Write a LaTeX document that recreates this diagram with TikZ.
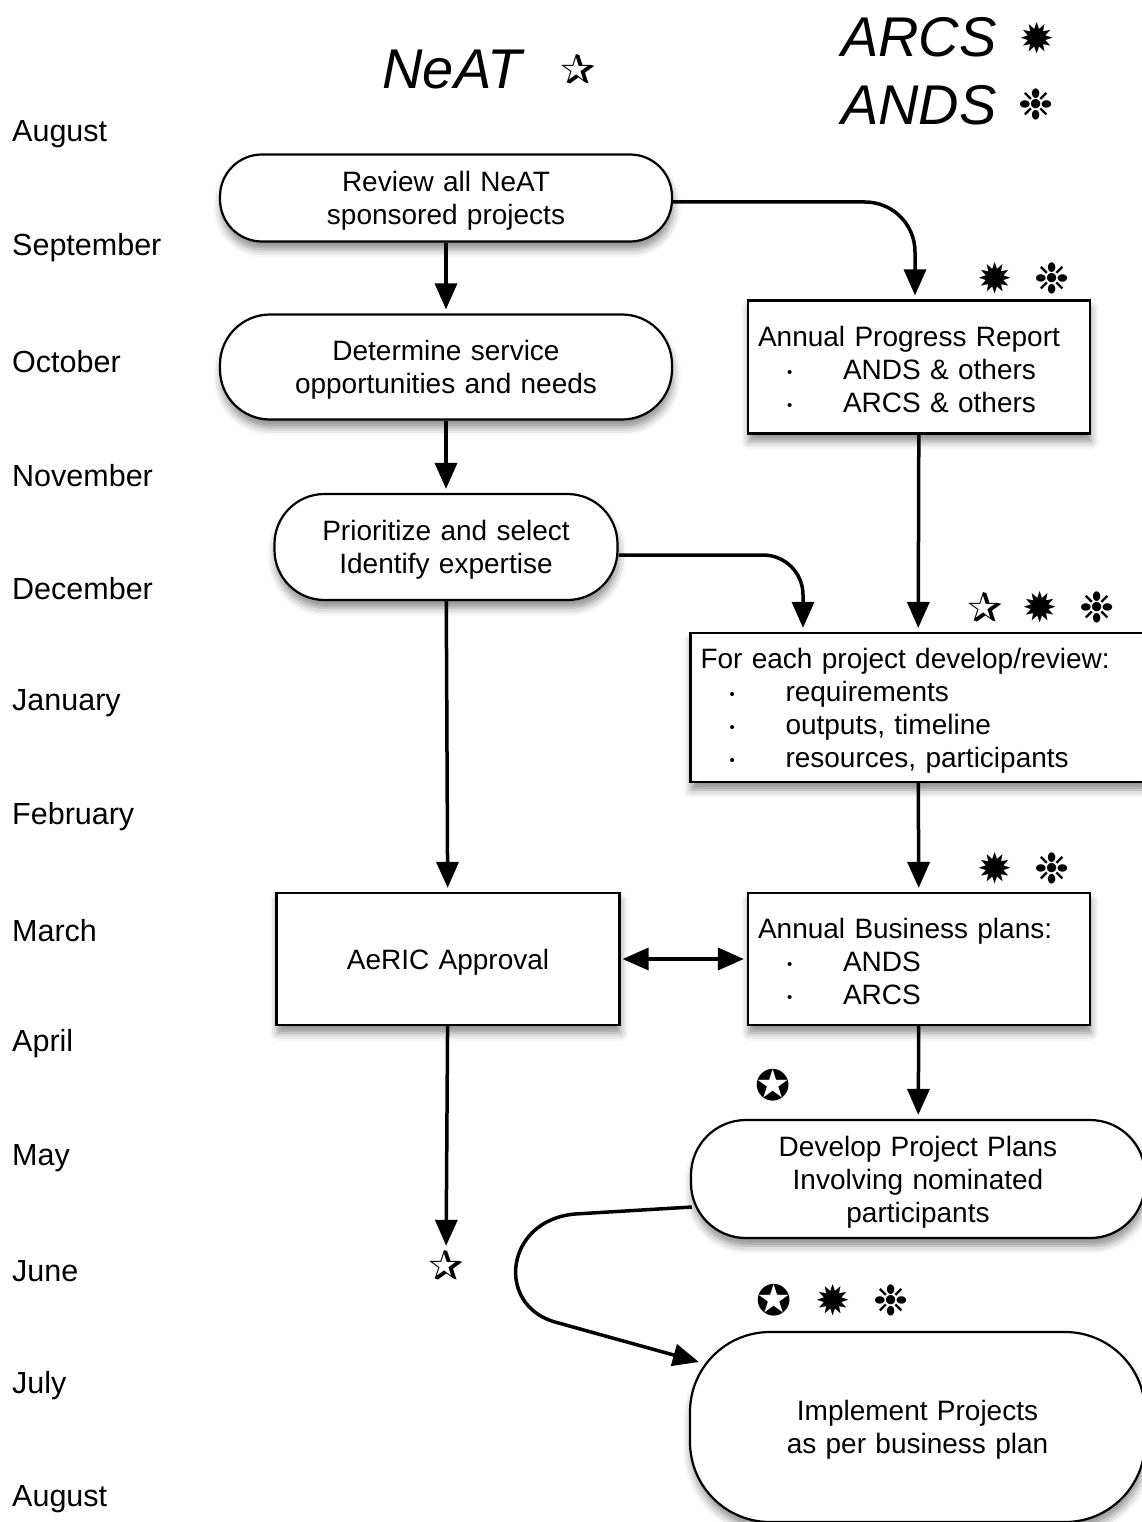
\documentclass[tikz,border=0pt]{standalone}
\usepackage{fontspec}
\setmainfont{Liberation Sans}
\newfontfamily\symfont{DejaVu Sans}
\usetikzlibrary{arrows.meta,shadows.blur}

\tikzset{
	month/.style={anchor=west, inner sep=0pt, font=\fontsize{30.5}{33}\selectfont},
	heading/.style={inner sep=0pt, font=\fontsize{56}{60}\selectfont\itshape},
	sym/.style={inner sep=0pt, font=\symfont\fontsize{42}{42}\selectfont},
	boxshadow/.style={blur shadow={shadow xshift=1pt, shadow yshift=-8pt, shadow blur radius=8pt, shadow opacity=45}},
	stage/.style={draw, line width=2.2pt, fill=white, boxshadow, align=center, inner sep=0pt, text height=26pt, font=\fontsize{28}{33}\selectfont},
	roundstage/.style={stage, rounded corners=#1},
	plan/.style={stage, align=left, inner xsep=10pt},
	flow/.style={line width=3.5pt, -{Triangle[length=26pt, width=22pt]}},
}
\newcommand{\itm}{\makebox[85pt][l]{\hspace{29pt}\raisebox{2pt}{\fontsize{15}{15}\selectfont•}}}

\begin{document}
\begin{tikzpicture}[x=1pt,y=-1pt]
	\useasboundingbox (0,0) rectangle (1142,1522);

	\foreach \m [count=\i from 0] in {August,September,October,November,December,January,February,March,April,May,June,July,August}
		\node[month] (m\i) at (12,{134+113.75*\i}) {\m};

	% headings and who is involved
	\node[heading] (neat) at (452,70) {NeAT};
	\node[sym] (neatsym) at (578,70) {✰};
	\node[heading, anchor=west] (arcs) at (841,37) {ARCS};
	\node[sym] (arcssym) at (1037,38) {✹};
	\node[heading, anchor=west] (ands) at (841,105) {ANDS};
	\node[sym] (andssym) at (1036,104) {❉};

	\node[roundstage=42pt, text width=412pt, minimum width=452pt, minimum height=87pt] (review) at (446,198) {Review all NeAT\\sponsored projects};
	\node[roundstage=50pt, text width=412pt, minimum width=452pt, minimum height=105pt] (service) at (446,367) {Determine service\\opportunities and needs};
	\node[roundstage=50pt, text width=303pt, minimum width=343pt, minimum height=106pt] (select) at (446,547) {Prioritize and select\\Identify expertise};
	\node[stage, text width=303pt, minimum width=343pt, minimum height=132pt] (aeric) at (448,959) {AeRIC Approval};
	\node[sym] (junestar) at (446,1265) {✰};

	\node[plan, text width=322pt, minimum height=133pt] (progress) at (919,367) {Annual Progress Report\\\itm ANDS \& others\\\itm ARCS \& others};
	\node[plan, text width=435pt, minimum height=149pt] (develop) at (918,707.5) {For each project develop/review:\\\itm requirements\\\itm outputs, timeline\\\itm resources, participants};
	\node[plan, text width=322pt, minimum height=132pt] (business) at (919,959) {Annual Business plans:\\\itm ANDS\\\itm ARCS};
	\node[roundstage=55pt, text width=414pt, minimum width=454pt, minimum height=118pt] (projplan) at (918,1179) {Develop Project Plans\\Involving nominated\\participants};
	\node[roundstage=80pt, text width=415pt, minimum width=455pt, minimum height=190pt] (implement) at (917.5,1427) {Implement Projects\\as per business plan};

	\node[sym] (s1) at (995,278) {✹};
	\node[sym] (s2) at (1052,278) {❉};
	\node[sym] (s3) at (985,607) {✰};
	\node[sym] (s4) at (1040,607) {✹};
	\node[sym] (s5) at (1097,607) {❉};
	\node[sym] (s6) at (995,868) {✹};
	\node[sym] (s7) at (1052,868) {❉};
	\node[sym] (s8) at (773,1085) {✪};
	\node[sym] (s9) at (774,1300) {✪};
	\node[sym] (s10) at (833,1300) {✹};
	\node[sym] (s11) at (891,1300) {❉};

	\draw[flow, shorten >=4pt] (review) -- (service);
	\draw[flow, shorten >=4pt] (service) -- (select);
	\draw[flow, shorten >=4pt] (select) -- (aeric);
	\draw[flow, shorten >=4pt] (aeric) -- (junestar);
	\draw[flow, shorten >=4pt] (progress) -- (develop);
	\draw[flow, shorten >=4pt] (develop) -- (business);
	\draw[flow, shorten >=4pt] (business) -- (projplan);
	\draw[line width=3.5pt, {Triangle[length=26pt, width=22pt]}-{Triangle[length=26pt, width=22pt]}, shorten <=2pt, shorten >=3pt] (aeric) -- (business);
	\draw[flow, rounded corners=50pt, shorten >=4pt] ([yshift=-4pt]review.east) -| ([xshift=-4pt]progress.north);
	\draw[flow, rounded corners=40pt, shorten >=4pt] ([yshift=-8pt]select.east) -| ([xshift=-115pt]develop.north);
	\draw[flow] ([xshift=2pt, yshift=-28pt]projplan.west) -- (575,1214) .. controls (505,1220) and (495,1305) .. (555,1322) -- ([xshift=10pt, yshift=65pt]implement.west);
\end{tikzpicture}
\end{document}
